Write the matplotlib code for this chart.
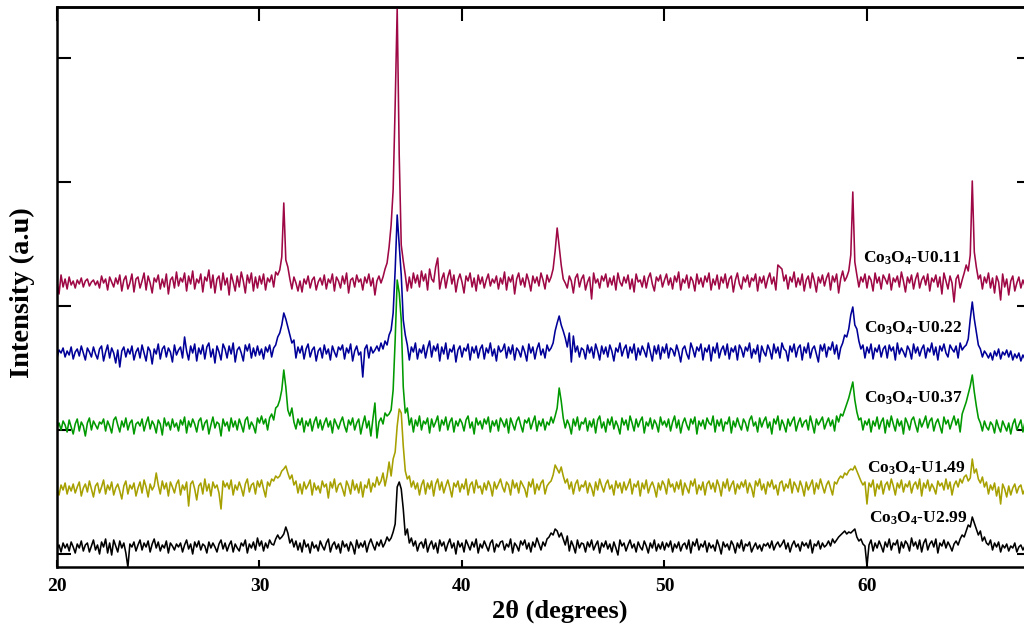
import numpy as np
import matplotlib
matplotlib.use('Agg')
import matplotlib.pyplot as plt

# grade de 2theta (graus): 20.0, 20.1, ... 67.9
THETA_START = 20.0
THETA_STEP = 0.1

# intensidades (u.a., relativas a linha de base de cada amostra)
# uma linha por grau, 10 pontos por linha
u011 = [
    3, -9, 10, -2, 6, -4, 8, 0, 4, -3,
    5, 1, 7, -2, 4, 6, -1, 3, 5, 0,
    4, -3, 9, 2, 6, -5, 8, 3, -2, 7,
    1, 10, -6, 5, 9, -4, 2, 11, -7, 6,
    8, -3, 4, 12, -5, 9, 2, -8, 7, 3,
    10, -4, 6, -2, 11, -9, 5, 8, -3, 13,
    -1, 7, 3, 12, -6, 9, 1, 14, -4, 6,
    2, 11, -7, 8, 4, 15, -3, 10, -8, 6,
    9, -5, 12, 0, 7, -10, 11, 3, -6, 9,
    -2, 13, 4, -8, 10, 2, 12, -6, 8, -3,
    9, 1, 11, -5, 7, 3, 10, -2, 13, 10,
    15, 28, 82, 25, 18, 6, -4, 8, 2, -6,
    4, -7, 6, 1, 9, -3, 5, 8, -5, 3,
    7, 0, 10, -4, 6, 2, 11, -6, 8, 4,
    -3, 9, 1, 12, -8, 5, 7, -2, 10, 3,
    6, -5, 8, 2, 11, -1, 7, -10, 4, 9,
    2, 8, 16, 22, 38, 60, 95, 180, 277, 130,
    40, 24, 10, -6, 8, -3, 12, 2, 10, -2,
    14, 4, 11, -5, 16, 6, 3, 18, 27, -4,
    6, 12, -3, 8, 15, 1, 10, -7, 5, 11,
    3, -8, 9, 4, 12, -2, 7, -6, 10, 1,
    8, -3, 5, 11, -1, 6, 2, 9, -4, 7,
    1, 13, -5, 8, 3, 10, -9, 6, 12, 0,
    7, -2, 11, 4, -6, 9, 2, 8, -1, 12,
    5, -4, 10, 3, 8, 16, 34, 57, 38, 20,
    6, 2, -3, 9, 4, -8, 7, 11, -2, 6,
    10, -5, 3, 8, -14, 12, 2, 6, -3, 9,
    4, 11, -2, 7, 0, 9, -5, 12, 3, -1,
    8, 2, 10, -4, 6, -7, 11, 3, 5, -2,
    9, -3, 7, 12, 1, -6, 8, 4, 10, -2,
    5, 11, 0, 7, -4, 9, 3, 13, -5, 6,
    2, 10, -3, 8, 4, -6, 11, 1, 7, -2,
    9, 3, 12, -5, 6, 0, 10, -4, 8, 2,
    11, -3, 6, 9, -7, 5, 12, 1, -4, 8,
    3, 10, -2, 7, 4, 11, -6, 8, 2, 9,
    -3, 6, 12, 1, 8, -5, 20, 18, 16, 4,
    10, -4, 8, 3, 13, -2, 7, 0, 11, -6,
    5, 9, -3, 12, 4, -7, 8, 2, 10, -1,
    7, 12, -5, 9, 3, 11, -8, 6, 14, 4,
    8, 14, 30, 93, 23, 10, -2, 8, 3, 11,
    -3, 9, 5, -6, 12, 2, 8, -4, 10, 6,
    1, 11, -5, 7, 3, 9, -2, 13, 4, -7,
    8, 2, 10, -4, 6, 12, -3, 5, 9, 0,
    11, -6, 7, 3, 10, -2, 8, -9, 12, 4,
    -4, 9, 2, -17, 6, 10, -3, 5, 12, 20,
    14, 30, 104, 33, 18, 6, 10, -4, 8, 2,
    12, -3, 7, -8, 9, 3, -15, 11, -2, 6,
    -10, 4, 9, -6, 2, 8, -3, 5, -1, 7,
]

u022 = [
    -3, 5, 2, 7, -2, 4, 0, 8, -4, 3,
    6, -1, 9, 2, -5, 7, 3, -2, 8, 1,
    -4, 6, 9, -6, 3, 10, -3, 7, 2, -8,
    5, -12, 4, 8, -2, 6, 1, 9, -5, 3,
    7, -3, 10, 2, -6, 8, 4, -9, 6, 1,
    11, -4, 6, 9, -2, 7, 3, -7, 10, 0,
    5, 8, -3, 18, 4, -5, 9, 2, 11, -6,
    7, 1, 10, -4, 8, 12, -2, 6, -8, 9,
    3, -5, 11, 6, -3, 9, 1, 12, -7, 5,
    8, 2, -6, 10, 4, 11, -3, 7, -1, 9,
    0, 6, -4, 8, 3, 10, -2, 7, 10, 18,
    22, 30, 42, 36, 28, 20, 12, 15, -3, 8,
    2, 9, -4, 6, 11, -2, 5, 8, -6, 4,
    7, -3, 10, 1, 6, -5, 9, 3, -2, 8,
    5, 10, -4, 7, 2, 11, -6, 4, 9, 0,
    3, -22, 6, 10, -3, 8, 2, 5, 9, 4,
    12, 6, 14, 10, 20, 25, 42, 85, 140, 110,
    80, 35, 20, 10, -5, 8, 3, 12, -4, 6,
    2, 10, -3, 7, 14, -2, 9, 4, 11, -6,
    8, 1, 12, -4, 6, 3, 10, -7, 5, 9,
    -2, 7, 4, 11, -5, 8, 2, 9, -3, 6,
    10, -4, 7, 2, 12, -1, 6, -6, 9, 3,
    5, 11, -3, 8, 1, 10, -5, 7, 4, -2,
    9, 3, -6, 11, 2, 8, -4, 6, 12, 0,
    6, -3, 10, 4, 7, 12, 24, 32, 39, 30,
    24, 17, 8, 22, -7, 19, 3, 9, -2, 7,
    5, -4, 10, 2, 8, -3, 11, 4, -5, 9,
    1, 8, -2, 10, 4, -6, 7, 3, 12, -1,
    6, 10, -3, 8, 2, 11, -5, 7, 0, 9,
    4, -2, 12, 3, -6, 9, 1, 10, -4, 8,
    2, 11, -3, 7, 5, -1, 10, 3, -7, 6,
    9, 1, -4, 12, 6, -2, 8, 4, 11, -5,
    7, 3, 10, -6, 8, 2, 12, -3, 5, 9,
    0, 11, -4, 7, 3, 9, -5, 10, 6, -2,
    8, 4, 12, -3, 6, 1, 10, -7, 9, 3,
    -1, 10, 5, -4, 11, 2, 8, -3, 12, 6,
    4, -6, 9, 3, 11, -2, 7, 10, -5, 8,
    2, 12, -3, 6, 9, 1, -7, 10, 4, 11,
    -2, 8, 5, 13, 1, 10, -4, 7, 12, 20,
    18, 26, 40, 48, 30, 26, 14, 6, 10, -3,
    8, 2, 11, -4, 7, 3, 10, -2, 6, 9,
    -3, 10, 4, 8, -5, 12, 1, 7, 3, -2,
    9, 5, -4, 11, 2, 8, -1, 6, 10, -3,
    7, 3, 12, 0, 8, -5, 9, 4, 11, 2,
    -2, 10, 6, 3, 9, -3, 12, 5, 8, 10,
    16, 36, 53, 36, 23, 10, 6, -2, 4, 1,
    -3, 2, -5, 4, -1, 6, -4, 3, 0, 5,
    -2, 4, -5, 1, -3, 2, -6, 0, -4, -7,
]

u037 = [
    0, 5, -2, 7, 3, -4, 8, 1, -6, 4,
    9, -3, 6, 2, -8, 5, 10, -2, 7, 3,
    -1, 6, 4, 9, -3, 7, 2, -5, 8, 11,
    3, -4, 7, 1, 10, -2, 5, 8, -6, 4,
    6, 2, 9, -3, 5, 11, -1, 7, 3, -5,
    8, 4, -7, 10, 2, 6, -2, 9, 1, 5,
    -3, 8, 3, 11, -5, 7, 1, 9, 4, -4,
    7, 10, -2, 5, 8, -6, 3, 11, 0, 6,
    4, -8, 9, 2, 6, -3, 10, 1, 7, -2,
    9, 3, -4, 8, 11, -1, 6, 2, -5, 10,
    5, 12, 4, 9, -2, 10, 14, 8, 20, 22,
    28, 38, 58, 41, 18, 12, 20, 6, -1, 9,
    3, 10, -4, 7, 2, 9, -3, 6, 11, 0,
    8, -2, 5, 10, 1, 7, -5, 9, 4, -1,
    6, 11, 2, -4, 8, 3, 10, -2, 5, 9,
    -6, 4, 12, 0, 7, -8, 9, 25, -10, 6,
    10, 4, 15, 12, 14, 18, 38, 88, 148, 135,
    108, 41, 15, 20, 3, 10, -4, 8, 2, 12,
    -2, 7, 4, 10, -5, 9, 1, 6, 12, -3,
    8, 3, 11, -2, 6, 10, -4, 7, 2, 9,
    5, -3, 8, 12, 0, 6, -6, 10, 3, 7,
    -1, 9, 4, 11, -4, 7, 2, 8, -3, 10,
    6, 1, 9, -5, 10, 4, -2, 7, 11, 3,
    -4, 8, 5, 10, -1, 6, 12, -3, 7, 2,
    9, -2, 6, 3, 11, 5, 12, 20, 40, 27,
    10, 0, 8, 3, -6, 9, 2, 11, -2, 6,
    4, 10, -3, 7, 1, 9, -5, 8, 12, 0,
    6, -4, 9, 3, 11, -1, 7, 2, -6, 10,
    3, 8, -2, 12, 5, -3, 9, 1, 7, 11,
    -5, 6, 2, 10, -1, 8, 4, -4, 11, 3,
    7, 1, 9, -3, 6, 12, 0, 8, -5, 5,
    10, 3, -2, 9, 4, 11, -6, 7, 2, 8,
    -1, 10, 5, 3, 12, -4, 8, 2, 9, -3,
    6, 4, 11, -5, 7, 1, 10, 3, -2, 9,
    5, -3, 8, 12, 2, 6, -4, 10, 1, 7,
    11, 0, 6, -6, 9, 4, 12, -2, 8, 3,
    -4, 9, 2, 7, 11, -3, 5, 10, 1, 6,
    8, -2, 12, 4, -5, 9, 3, 7, 11, -1,
    5, 10, 2, 8, -3, 12, 6, 14, 12, 18,
    24, 30, 38, 46, 28, 16, 8, 10, -2, 7,
    3, 9, -4, 7, 2, 11, -1, 6, 10, -5,
    8, 1, 12, 4, -3, 9, 2, 7, -6, 10,
    5, -2, 8, 11, 3, -4, 9, 1, 6, 12,
    0, 7, 10, -3, 5, 9, 2, -5, 11, 4,
    8, -1, 6, 12, 3, 9, -4, 14, 20, 26,
    34, 42, 53, 36, 22, 10, 5, -3, 7, 1,
    -2, 6, 3, -5, 8, 1, -4, 7, 2, -3,
    5, -6, 4, 9, -2, 3, 8, -4, 6, 1,
]

u149 = [
    2, -4, 6, 1, 8, -3, 5, 0, 7, -2,
    4, 9, -5, 3, 7, -1, 10, 2, -6, 5,
    8, -2, 4, 11, -3, 6, 1, 9, -4, 3,
    7, 0, -8, 5, 10, -3, 6, 2, 8, -5,
    3, 9, -2, 11, 4, -6, 7, 1, 5, 18,
    6, -3, 10, 2, 8, -5, 9, 4, -2, 7,
    11, -4, 6, 1, 9, -15, 7, 10, 2, -9,
    5, 8, -3, 12, 0, 7, -5, 9, 3, 6,
    -2, -18, 10, 4, 8, 2, 11, -4, 6, 1,
    9, 3, -5, 7, 12, -1, 6, 8, -3, 10,
    4, 11, 2, -6, 9, 5, 12, 10, 15, 13,
    15, 20, 22, 25, 18, 12, 16, 6, 10, -2,
    7, -3, 9, 2, 6, 11, -4, 8, 1, 5,
    -2, 10, 4, 7, -7, 9, 3, 12, -1, 6,
    8, 2, -5, 10, 5, -3, 11, 1, 7, -2,
    9, -6, 6, 3, 12, -1, 8, 4, 14, 6,
    10, 18, 5, 15, 29, 15, 32, 39, 65, 82,
    78, 45, 20, 12, 15, 4, 10, 2, 8, -4,
    6, 11, -3, 8, 2, 10, -5, 7, 12, 1,
    9, -2, 5, 11, 3, -6, 8, 4, 10, -1,
    7, 2, 12, -4, 6, 9, -2, 11, 3, 5,
    -3, 8, 1, 10, 5, -5, 9, 2, 7, 12,
    4, -1, 9, 6, -4, 11, 3, 8, -2, 10,
    6, 2, -6, 9, 4, 12, -3, 7, 1, 8,
    11, -3, 5, 8, 10, 16, 26, 22, 18, 24,
    15, 8, 12, 2, 9, -3, 7, 11, 0, 6,
    4, 10, -2, 8, 3, -5, 9, 1, 12, 5,
    -1, 7, 11, 2, 6, -4, 10, 3, 8, -2,
    9, 1, 6, 12, -3, 7, 4, 10, -5, 8,
    2, 11, -2, 5, 9, 3, -6, 8, 1, 10,
    6, -3, 12, 4, 7, -1, 9, 2, 11, -4,
    8, 3, -2, 10, 5, 12, -3, 6, 1, 9,
    -4, 7, 10, 2, 8, -1, 11, 5, -5, 9,
    3, 12, 0, 6, 10, -3, 7, 2, 9, 4,
    11, -2, 8, 3, -6, 10, 5, 12, 1, 7,
    -3, 9, 4, 11, 2, 6, -4, 8, 10, 0,
    7, 3, 12, -2, 9, 5, -1, 10, 4, -5,
    9, 1, 6, 11, -3, 8, 2, 12, 5, -2,
    6, 10, 3, -4, 9, 7, 12, 15, 13, 18,
    16, 20, 22, 21, 25, 20, 15, 10, 6, 9,
    -13, 8, 4, 11, -5, 7, 2, 10, -3, 6,
    9, 1, 12, 5, -4, 8, 3, 11, -1, 7,
    4, 10, -2, 6, 9, 2, 12, -5, 8, 3,
    11, 0, 7, 3, -3, 10, 5, 8, 1, 12,
    2, 9, -4, 6, 10, 4, 12, 8, 14, 16,
    10, 13, 32, 18, 22, 12, 8, 14, 4, 9,
    -3, 6, 1, 8, -5, 4, -13, 7, 2, -6,
    5, -4, 3, 7, -2, 4, 6, -3, 2, 5,
]

u299 = [
    0, 4, -3, 6, 1, 5, -2, 7, 2, -4,
    5, 1, 8, -2, 4, 6, -3, 3, 9, -1,
    4, -5, 7, 2, 10, -4, 6, -6, 9, 3,
    -3, 8, 1, 6, -4, -18, 5, 2, 7, -2,
    4, 9, -1, 6, 2, 8, -3, 5, 10, 1,
    7, -2, 4, 1, 8, -4, 6, 3, -1, 5,
    2, 6, -3, 4, 9, 0, 5, -5, 7, 2,
    8, -1, 5, 3, -4, 7, 1, 6, 2, -3,
    5, 9, 0, 6, -2, 4, 8, -3, 5, 1,
    -2, 6, 3, 9, -4, 5, 1, 7, -1, 11,
    3, 8, -2, 6, 1, 9, 5, 4, 10, 14,
    10, 12, 15, 22, 16, 6, 10, 2, 8, -1,
    6, -3, 9, 2, 5, -4, 7, 1, 4, -2,
    8, 3, -1, 6, 10, -3, 4, 7, 0, 5,
    -4, 8, 2, 5, -2, 7, 3, -5, 9, 1,
    6, 2, 8, -3, 5, 10, 4, -1, 7, 3,
    9, 2, 6, 12, 8, 11, 17, 25, 62, 67,
    60, 40, 14, 20, 6, 11, 3, 8, -2, 5,
    7, 1, 10, -3, 4, 8, 0, 6, -4, 9,
    3, 7, -2, 5, 10, 1, 6, -5, 8, 2,
    6, -3, 9, 4, -1, 7, 2, 10, -4, 5,
    1, 8, 3, -2, 6, 9, -3, 5, 2, 7,
    8, -1, 5, 2, 10, -4, 6, 3, -2, 8,
    4, 9, 0, 6, -3, 7, 2, 11, 5, -1,
    7, 3, 10, 12, 16, 14, 20, 18, 12, 16,
    10, 4, 13, -2, 8, 3, -4, 9, 1, 6,
    5, -3, 7, 2, 9, -1, 4, 8, -4, 6,
    2, 8, 0, 5, -3, 7, 1, -6, 9, 3,
    6, -2, 4, 9, 1, 5, -3, 7, 2, -1,
    8, 3, -4, 6, 1, 9, -2, 5, 0, 7,
    -1, 6, 2, 8, -3, 5, 1, 7, -2, 4,
    6, 0, 9, -4, 7, 3, 10, -1, 5, 2,
    8, -3, 6, 1, 4, -2, 9, 3, -5, 7,
    2, 5, -1, 8, 4, -4, 6, 1, 9, -2,
    5, 3, 7, -3, 2, 6, 0, 4, -2, 5,
    3, 6, 1, 8, -1, 4, 7, 2, 5, 9,
    0, 6, -3, 4, 8, 2, 5, -2, 7, 3,
    6, 1, 9, -4, 5, 3, 8, 0, 6, 2,
    4, 8, 3, 10, 6, 9, 12, 14, 16, 18,
    15, 17, 16, 18, 20, 12, 8, 10, 5, 3,
    -17, 4, 9, -2, 6, 1, 8, 3, -3, 7,
    2, 10, -1, 6, 4, 9, -4, 7, 1, 8,
    5, -2, 11, 3, 7, 0, 9, -3, 6, 10,
    -1, 5, 8, 2, 10, -4, 6, 3, 9, 1,
    7, 3, -2, 5, 8, 4, 10, 14, 12, 18,
    24, 22, 32, 26, 20, 14, 18, 8, 12, 6,
    4, 9, -1, 6, 2, 7, -3, 4, 1, 5,
    -2, 3, 1, 6, -3, 2, 4, -1, 3, 0,
]

samples = ['Co$_3$O$_4$-U0.11', 'Co$_3$O$_4$-U0.22', 'Co$_3$O$_4$-U0.37',
           'Co$_3$O$_4$-U1.49', 'Co$_3$O$_4$-U2.99']
series = [u011, u022, u037, u149, u299]

# deslocamento vertical de cada curva (empilhamento)
offsets = [282, 212, 139, 76, 18]
colors = ['#9E0845', '#000099', '#009900', '#A6A000', '#000000']
# posicao dos rotulos (2theta, intensidade)
label_pos = [(62.22, 309), (62.27, 239), (62.27, 169), (62.42, 99), (62.5, 49)]

plt.rcParams['font.family'] = 'Liberation Serif'
plt.rcParams['font.weight'] = 'bold'
plt.rcParams['mathtext.fontset'] = 'custom'
plt.rcParams['mathtext.rm'] = 'Liberation Serif:bold'
plt.rcParams['mathtext.bf'] = 'Liberation Serif:bold'
plt.rcParams['mathtext.it'] = 'Liberation Serif:bold'
plt.rcParams['mathtext.default'] = 'rm'

fig = plt.figure(figsize=(10.24, 6.3), dpi=100)
ax = fig.add_axes([57 / 1024, 63 / 630, 974 / 1024, 560 / 630])

for vals, off, col in zip(series, offsets, colors):
    y = np.array(vals) + off
    x = THETA_START + THETA_STEP * np.arange(len(y))
    ax.plot(x, y, color=col, lw=1.15)

for name, (lx, ly) in zip(samples, label_pos):
    ax.text(lx, ly, name, fontsize=12.5, fontweight='bold', ha='center', va='center')

ax.set_xlim(20, 68.1)
ax.set_ylim(0, 560)
ax.set_xticks([20, 30, 40, 50, 60])
ax.set_yticks([13, 137, 261, 385, 509])
ax.set_yticklabels([])
ax.tick_params(axis='x', direction='in', length=5, width=1.5, pad=8, labelsize=14)
ax.tick_params(axis='y', direction='in', length=10, width=1.5, left=True, right=True)
for s in ax.spines.values():
    s.set_linewidth(1.8)

# ticks do topo (mais longos)
top = ax.secondary_xaxis('top')
top.set_xticks([20, 30, 40, 50, 60])
top.tick_params(direction='in', length=10, width=1.5, labeltop=False)
top.spines['top'].set_linewidth(1.8)

fig.text(560 / 1024, 1 - 611 / 630, r'2θ (degrees)', fontsize=19, fontweight='bold',
         ha='center', va='center')
fig.text(22 / 1024, 1 - 293 / 630, 'Intensity (a.u)', fontsize=20.5, fontweight='bold',
         ha='center', va='center', rotation=90)

fig.savefig('out.png', dpi=100)
